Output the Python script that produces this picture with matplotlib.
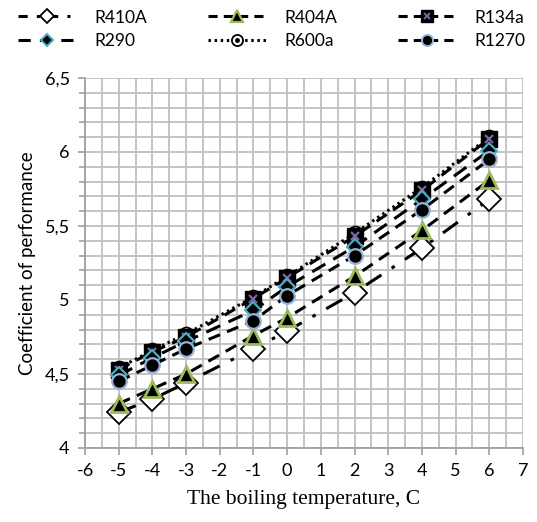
import numpy as np
import matplotlib.pyplot as plt
import matplotlib.lines as mlines
from matplotlib.ticker import MultipleLocator, FuncFormatter

# === data ===
temps = [-5, -4, -3, -1, 0, 2, 4, 6]

cop_r410a = [4.24, 4.33, 4.44, 4.67, 4.79, 5.05, 5.35, 5.68]
cop_r404a = [4.30, 4.40, 4.50, 4.76, 4.88, 5.16, 5.47, 5.81]
cop_r134a = [4.53, 4.65, 4.75, 5.01, 5.15, 5.43, 5.74, 6.09]
cop_r290 = [4.49, 4.61, 4.72, 4.93, 5.09, 5.36, 5.68, 6.01]
cop_r600a = [4.54, 4.66, 4.77, 5.02, 5.16, 5.45, 5.76, 6.10]
cop_r1270 = [4.45, 4.56, 4.67, 4.86, 5.03, 5.30, 5.61, 5.95]

labels = ["R410A", "R404A", "R134a", "R290", "R600a", "R1270"]

plt.rcParams['font.family'] = ['Lato', 'DejaVu Sans']
plt.rcParams['axes.unicode_minus'] = False

fig = plt.figure(figsize=(5.37, 5.22), dpi=100)
ax = fig.add_axes([85 / 537, 1 - 448 / 522, 438 / 537, 370 / 522])

lw = 2.2
h1, = ax.plot(temps, cop_r410a, color='black', lw=lw, dashes=(6, 4, 1.2, 4),
              marker='D', ms=12, mfc='white', mec='black', mew=1.3, zorder=3)
h2, = ax.plot(temps, cop_r404a, color='black', lw=lw, dashes=(4, 2.5),
              marker='^', ms=12, mfc='black', mec='#9BBB59', mew=2, zorder=4)
h5, = ax.plot(temps, cop_r600a, color='black', lw=lw, ls=(0, (0.8, 1.2)),
              marker='o', ms=10, mfc='white', mec='black', mew=1.3, zorder=5)
h3, = ax.plot(temps, cop_r134a, color='black', lw=lw, dashes=(4, 2.5),
              marker='s', ms=11, mfc='black', mec='black', zorder=6)
ax.plot(temps, cop_r134a, ls='none', marker='x', ms=6, mec='#8064A2', mew=1.6, zorder=6.5)
h4, = ax.plot(temps, cop_r290, color='black', lw=lw, dashes=(5, 3),
              marker='D', ms=8, mfc='black', mec='#4BACC6', mew=1.6, zorder=7)
h6, = ax.plot(temps, cop_r1270, color='black', lw=lw, dashes=(4, 2.5),
              marker='o', ms=10.5, mfc='black', mec='#95B3D7', mew=1.6, zorder=8)

ax.set_xlim(-6, 7)
ax.set_ylim(4, 6.5)
ax.xaxis.set_major_locator(MultipleLocator(1))
ax.xaxis.set_minor_locator(MultipleLocator(0.5))
ax.yaxis.set_major_locator(MultipleLocator(0.5))
ax.yaxis.set_minor_locator(MultipleLocator(0.1))
ax.yaxis.set_major_formatter(FuncFormatter(lambda v, p: f"{v:g}".replace('.', ',')))
ax.xaxis.set_major_formatter(FuncFormatter(lambda v, p: f"{v:g}"))

ax.grid(which='both', color='#BFBFBF', lw=1.3)
ax.set_axisbelow(True)
for s in ['top', 'right']:
    ax.spines[s].set_visible(False)
for s in ['left', 'bottom']:
    ax.spines[s].set_color('#A0A0A0')
    ax.spines[s].set_linewidth(1.3)
ax.tick_params(which='both', direction='out', color='#A0A0A0', width=1.2, labelsize=13)
ax.tick_params(which='major', length=5, pad=6)
ax.tick_params(which='minor', length=4)
ax.tick_params(axis='x', which='minor', length=0)

ax.set_ylabel("Coefficient of performance", fontsize=13.5, labelpad=6)
ax.set_xlabel("The boiling temperature, C", fontsize=15.5,
              fontfamily='Liberation Serif', labelpad=8)

# legend: small markers, filled row by row
def leg(**kw):
    return mlines.Line2D([], [], color='black', lw=lw, **kw)

lg1 = leg(dashes=(3, 3, 1, 3), marker='D', ms=7, mfc='white', mec='black', mew=1.3)
lg2 = leg(dashes=(3, 2), marker='^', ms=8, mfc='black', mec='#9BBB59', mew=1.6)
lg3 = leg(dashes=(3, 2), marker='s', ms=8, mfc='black', mec='black')
lg3x = mlines.Line2D([], [], ls='none', marker='x', ms=5, mec='#8064A2', mew=1.4)
lg4 = leg(dashes=(4, 3), marker='D', ms=6, mfc='black', mec='#4BACC6', mew=1.4)
lg5 = leg(ls=(0, (0.8, 1.2)), marker='o', ms=8, mfc='white', mec='black', mew=1.3)
lg5d = mlines.Line2D([], [], ls='none', marker='o', ms=2.5, mfc='black', mec='black')
lg6 = leg(dashes=(3, 2), marker='o', ms=8, mfc='black', mec='#95B3D7', mew=1.4)

handles = [lg1, lg4, lg2, (lg5, lg5d), (lg3, lg3x), lg6]
order = [labels[0], labels[3], labels[1], labels[4], labels[2], labels[5]]
fig.legend(handles, order, ncol=3, frameon=False,
           loc='upper left', bbox_to_anchor=(0.02, 0.995), fontsize=12.5,
           handlelength=3.4, columnspacing=3.5, handletextpad=1.0,
           labelspacing=0.45, borderaxespad=0)

fig.savefig("out.png", dpi=100)
